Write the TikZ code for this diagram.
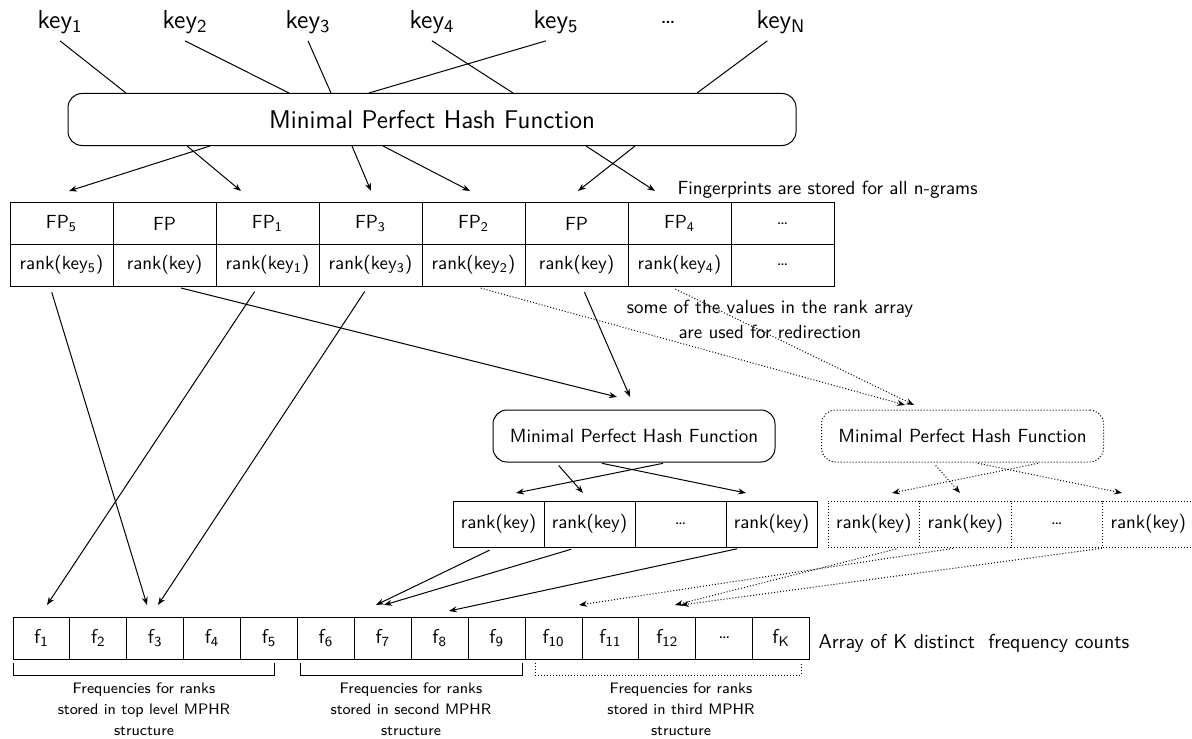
\documentclass[tikz,border=0pt]{standalone}
\usetikzlibrary{arrows.meta}
\renewcommand{\familydefault}{\sfdefault}
\begin{document}
\begin{tikzpicture}[x=0.5pt,y=-0.5pt,line width=0.5pt,
  >={Stealth[length=4pt,width=3pt]},
  keylbl/.style={font=\fontsize{13}{15}\selectfont},
  hashbox/.style={draw,rounded corners=7pt,minimum height=26pt,inner sep=0pt},
  fpcell/.style={draw,minimum width=51.5pt,minimum height=21pt,inner sep=0pt,font=\fontsize{9.5}{11}\selectfont},
  rkcell/.style={draw,minimum width=45.5pt,minimum height=23pt,inner sep=0pt,font=\fontsize{9.5}{11}\selectfont},
  fcell/.style={draw,minimum width=28.45pt,minimum height=21pt,inner sep=0pt,font=\fontsize{10}{12}\selectfont},
  notetext/.style={inner sep=0pt,align=center,font=\fontsize{9.5}{12.5}\selectfont},
  bracetext/.style={inner sep=0pt,align=center,font=\fontsize{7.6}{10.5}\selectfont},
  redirect/.style={densely dotted},
  gap/.style={shorten <=3pt}]
\useasboundingbox (0,0) rectangle (1192,738);

% keys and the top level hash function
\node[keylbl] (k1) at (60,22) {key\textsubscript{1}};
\node[keylbl] (k2) at (185,22) {key\textsubscript{2}};
\node[keylbl] (k3) at (308,22) {key\textsubscript{3}};
\node[keylbl] (k4) at (432,22) {key\textsubscript{4}};
\node[keylbl] (k5) at (556,22) {key\textsubscript{5}};
\node[keylbl] (kdots) at (668,22) {\ldots};
\node[keylbl] (kN) at (781,22) {key\textsubscript{N}};
\node[hashbox,minimum width=364pt,font=\fontsize{12.8}{15}\selectfont] (mphf) at (432,119.5) {Minimal Perfect Hash Function};

\draw (k1.south) -- (126,0 |- mphf.north);
\draw (k2.south) -- (289,0 |- mphf.north);
\draw (k3.south) -- (331,0 |- mphf.north);
\draw (k4.south) -- (513,0 |- mphf.north);
\draw (k5.-118) -- (369,0 |- mphf.north);
\draw (kN.-126) -- (697,0 |- mphf.north);

% arrow ends
\coordinate (fpin) at (0,191);
\coordinate (hashin) at (0,397);
\coordinate (hashin2) at (0,405);
\coordinate (rkin) at (0,493);
\coordinate (fin) at (0,605);
\coordinate (fin2) at (0,611);

% fingerprint / rank table
\foreach \fp/\rk [count=\i] in {FP\textsubscript{5}/rank(key\textsubscript{5}),FP/rank(key),FP\textsubscript{1}/rank(key\textsubscript{1}),FP\textsubscript{3}/rank(key\textsubscript{3}),FP\textsubscript{2}/rank(key\textsubscript{2}),FP/rank(key),FP\textsubscript{4}/rank(key\textsubscript{4}),\ldots/\ldots}{
  \node[fpcell] (fp\i) at ({61.5+103*(\i-1)},223.5) {\fp};
  \node[fpcell] (rk\i) at ({61.5+103*(\i-1)},265) {\rk};
}
\node[notetext,anchor=west] (fpnote) at (677,190) {Fingerprints are stored for all n-grams};

\draw[->] (210,0 |- mphf.south) -- (69,0 |- fpin);
\draw[->] (187,0 |- mphf.south) -- (241,0 |- fpin);
\draw[->] (352,0 |- mphf.south) -- (371,0 |- fpin);
\draw[->] (383,0 |- mphf.south) -- (470,0 |- fpin);
\draw[->] (586,0 |- mphf.south) -- (655,0 |- fpin);
\draw[->] (635,0 |- mphf.south) -- (578,0 |- fpin);

% second and third level hash functions
\node[hashbox,minimum width=141pt,font=\fontsize{9.5}{11}\selectfont] (hash1) at (634,436) {Minimal Perfect Hash Function};
\node[hashbox,redirect,minimum width=141pt,font=\fontsize{9.5}{11}\selectfont] (hash2) at (962.5,436) {Minimal Perfect Hash Function};
\node[notetext] (redir) at (770,319.5) {some of the values in the rank array\\are used for redirection};

\foreach \t [count=\i] in {rank(key),rank(key),\ldots,rank(key)}{
  \node[rkcell] (ra\i) at ({498.5+91*(\i-1)},524) {\t};
  \node[rkcell,redirect,minimum width=45.75pt] (rb\i) at ({873.75+91.5*(\i-1)},524) {\t};
}

% frequency array
\foreach \t [count=\i] in {1,2,3,4,5,6,7,8,9,10,11,12,\ldots,K}{
  \ifnum\i=13
    \node[fcell] (f\i) at ({41.45+56.9*(\i-1)},638) {\t};
  \else
    \node[fcell] (f\i) at ({41.45+56.9*(\i-1)},638) {f\textsubscript{\t}};
  \fi
}
\node[notetext,anchor=west,font=\fontsize{10}{12}\selectfont] (arrlbl) at (818,643) {Array of K distinct~ frequency counts};

\draw (13,663) |- (274,675) -- (274,663);
\draw (300,663) |- (522,675) -- (522,663);
\draw[redirect] (535,663) |- (801,675) -- (801,663);
\node[bracetext] (lab1) at (144,709) {Frequencies for ranks\\stored in top level MPHR\\structure};
\node[bracetext] (lab2) at (411,709) {Frequencies for ranks\\stored in second MPHR\\structure};
\node[bracetext] (lab3) at (681,709) {Frequencies for ranks\\stored in third MPHR\\structure};

% top level ranks
\draw[->,gap] (50,0 |- rk1.south) -- (147,0 |- fin);
\draw[->,gap] (175,0 |- rk2.south) -- (617,0 |- hashin);
\draw[->,gap] (258,0 |- rk3.south) -- (47,0 |- fin);
\draw[->,gap] (368,0 |- rk4.south) -- (158,0 |- fin);
\draw[->,gap] (582,0 |- rk6.south) -- (630,0 |- hashin);
\draw[->,gap,redirect] (475,0 |- rk5.south) -- (905,0 |- hashin2);
\draw[->,gap,redirect] (670,0 |- rk7.south) -- (914,0 |- hashin2);

% second level
\draw[->,shorten <=2pt] (556,0 |- hash1.south) -- (583,0 |- rkin);
\draw[->,shorten <=2pt] (667,0 |- hash1.south) -- (516,0 |- rkin);
\draw[->,shorten <=2pt] (598,0 |- hash1.south) -- (746,0 |- rkin);
\draw[->,gap] (495,0 |- ra1.south) -- (376,0 |- fin);
\draw[->,gap] (577,0 |- ra2.south) -- (384,0 |- fin);
\draw[->,gap] (743,0 |- ra4.south) -- (449,0 |- fin2);

% third level
\draw[->,redirect,shorten <=2pt] (933,0 |- hash2.south) -- (960,0 |- rkin);
\draw[->,redirect,shorten <=2pt] (1042,0 |- hash2.south) -- (892,0 |- rkin);
\draw[->,redirect,shorten <=2pt] (974,0 |- hash2.south) -- (1122,0 |- rkin);
\draw[->,gap,redirect] (902,0 |- rb1.south) -- (675,0 |- fin);
\draw[->,gap,redirect] (959,0 |- rb2.south) -- (579,0 |- fin);
\draw[->,gap,redirect] (1108,0 |- rb4.south) -- (681,0 |- fin);
\end{tikzpicture}
\end{document}
